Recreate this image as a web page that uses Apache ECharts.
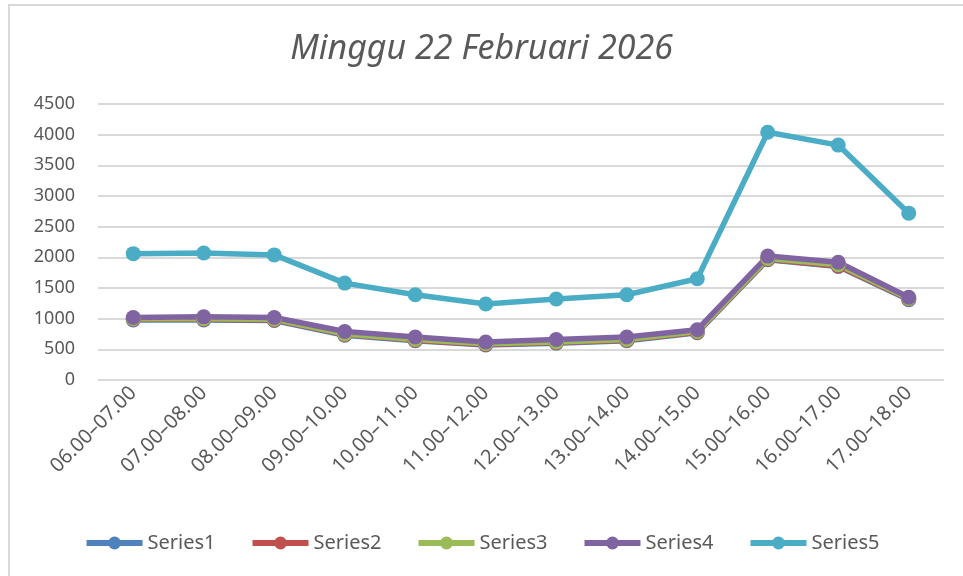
<!DOCTYPE html>
<html>
<head>
<meta charset="utf-8">
<script src="https://cdn.jsdelivr.net/npm/echarts@6/dist/echarts.min.js"></script>
<style>
  html, body { margin: 0; padding: 0; background: #fff; }
  #main { width: 963px; height: 576px; }
</style>
</head>
<body>
<div id="main"></div>
<script>
var categories = ['06.00\u201307.00', '07.00\u201308.00', '08.00\u201309.00', '09.00\u201310.00',
    '10.00\u201311.00', '11.00\u201312.00', '12.00\u201313.00', '13.00\u201314.00',
    '14.00\u201315.00', '15.00\u201316.00', '16.00\u201317.00', '17.00\u201318.00'];

var series1 = [980, 980, 970, 730, 640, 570, 600, 640, 770, 1960, 1850, 1310];
var series2 = [990, 990, 980, 740, 650, 580, 610, 650, 780, 1970, 1860, 1320];
var series3 = [1000, 1000, 990, 750, 660, 590, 620, 660, 790, 1980, 1880, 1330];
var series4 = [1020, 1030, 1020, 790, 700, 620, 660, 700, 820, 2020, 1920, 1350];
var series5 = [2060, 2070, 2040, 1580, 1390, 1240, 1320, 1390, 1650, 4040, 3830, 2720];

var yTicks = [0, 500, 1000, 1500, 2000, 2500, 3000, 3500, 4000, 4500];

var myChart = echarts.init(document.getElementById('main'));

function line(name, data, color) {
    return {
        name: name,
        type: 'line',
        data: data,
        symbol: 'circle',
        symbolSize: 15,
        color: color,
        lineStyle: { width: 5.5, color: color },
        itemStyle: { color: color },
        animation: false
    };
}

var option = {
    backgroundColor: '#fff',
    title: {
        text: 'Minggu 22 Februari 2026',
        left: 'center',
        top: 27,
        textStyle: {
            fontFamily: 'Noto Sans',
            fontStyle: 'italic',
            fontWeight: 'normal',
            fontSize: 34,
            color: '#595959'
        }
    },
    graphic: [{
        type: 'rect',
        shape: { x: 9, y: 5, width: 1000, height: 600 },
        style: { fill: 'none', stroke: '#d9d9d9', lineWidth: 2 },
        silent: true
    }],
    legend: {
        bottom: 18,
        left: 'center',
        itemWidth: 56,
        itemHeight: 16,
        itemGap: 34,
        lineStyle: { width: 6 },
        textStyle: { fontFamily: 'Noto Sans', fontSize: 20, color: '#595959' },
        data: ['Series1', 'Series2', 'Series3', 'Series4', 'Series5']
    },
    grid: {
        left: 98,
        right: 19,
        top: 104,
        bottom: 196
    },
    xAxis: {
        type: 'category',
        data: categories,
        boundaryGap: true,
        axisLine: { lineStyle: { color: '#d9d9d9', width: 1 } },
        axisTick: { show: false },
        axisLabel: {
            rotate: 45,
            interval: 0,
            margin: 10,
            fontFamily: 'Noto Sans',
            fontSize: 20,
            color: '#595959'
        }
    },
    yAxis: {
        type: 'value',
        min: yTicks[0],
        max: yTicks[yTicks.length - 1],
        interval: 500,
        axisLine: { show: false },
        axisTick: { show: false },
        splitLine: { lineStyle: { color: '#d9d9d9', width: 2 } },
        axisLabel: {
            margin: 23,
            fontFamily: 'Noto Sans',
            fontSize: 18,
            color: '#595959',
            formatter: function (v) { return String(v); }
        }
    },
    series: [
        line('Series1', series1, '#4f81bd'),
        line('Series2', series2, '#c0504d'),
        line('Series3', series3, '#9bbb59'),
        line('Series4', series4, '#8064a2'),
        line('Series5', series5, '#4bacc6')
    ]
};

myChart.setOption(option);
</script>
</body>
</html>
